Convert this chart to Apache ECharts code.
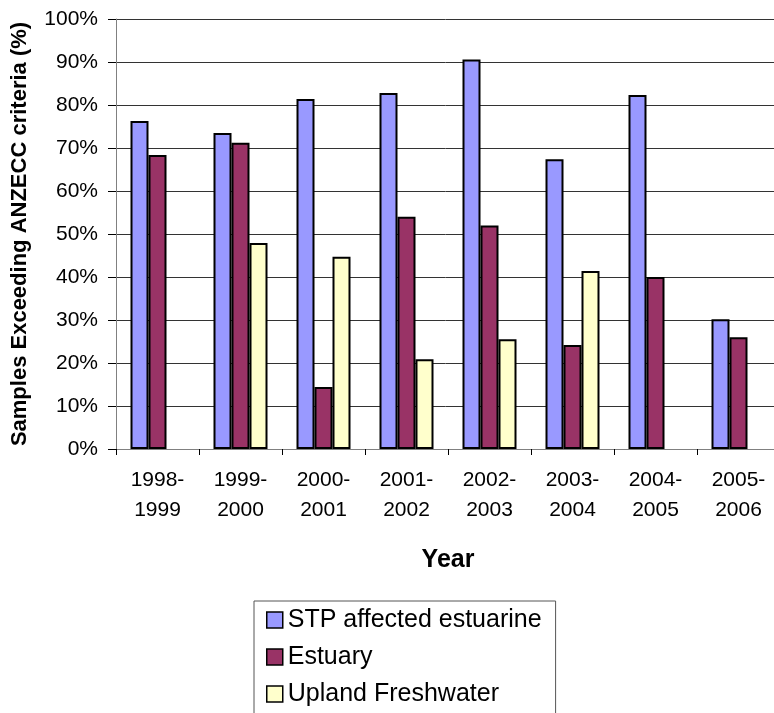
<!DOCTYPE html>
<html>
<head>
<meta charset="utf-8">
<script src="https://cdn.jsdelivr.net/npm/echarts@6/dist/echarts.min.js"></script>
<style>
  html, body { margin: 0; padding: 0; background: #fff; }
  #chart { width: 774px; height: 713px; }
</style>
</head>
<body>
<div id="chart"></div>
<script>
// Financial-year periods on the category axis
const years = ['1998-\n1999', '1999-\n2000', '2000-\n2001', '2001-\n2002',
               '2002-\n2003', '2003-\n2004', '2004-\n2005', '2005-\n2006'];

// Percentage of samples exceeding ANZECC criteria, per site type
const stpAffected = [76.3, 73.5, 81.4, 82.8, 90.6, 67.4, 82.3, 30.2];
const estuary     = [68.4, 71.2, 14.4, 54.0, 52.0, 24.2, 40.0, 26.0];
const upland      = [null, 47.9, 44.7, 20.9, 25.5, 41.4, null, null];

const yTicks = { min: 0, max: 100, step: 10 };

const FONT = '"Liberation Sans", Arial, sans-serif';

const chart = echarts.init(document.getElementById('chart'), null, { renderer: 'canvas' });

function barSeries(name, data, color) {
  return {
    name: name,
    type: 'bar',
    data: data,
    barWidth: 18,
    barGap: '0%',
    itemStyle: { color: color, borderColor: '#000', borderWidth: 2 },
    emphasis: { disabled: true }
  };
}

chart.setOption({
  animation: false,
  backgroundColor: '#fff',
  textStyle: { fontFamily: FONT },
  grid: {
    left: 116, top: 19, width: 664, height: 430,
    containLabel: false,
    outerBoundsMode: 'none'
  },
  xAxis: {
    type: 'category',
    data: years,
    name: 'Year',
    nameLocation: 'middle',
    nameGap: 99,
    nameTextStyle: { fontFamily: FONT, fontSize: 25, fontWeight: 'bold', color: '#000' },
    axisLine: { lineStyle: { color: '#808080', width: 1 } },
    axisTick: { show: true, length: 6, lineStyle: { color: '#000' } },
    axisLabel: { fontFamily: FONT, fontSize: 21, color: '#000', lineHeight: 30, margin: 16 }
  },
  yAxis: {
    type: 'value',
    min: yTicks.min,
    max: yTicks.max,
    interval: yTicks.step,
    name: 'Samples Exceeding ANZECC criteria (%)',
    nameLocation: 'middle',
    nameGap: 85,
    nameTextStyle: { fontFamily: FONT, fontSize: 22, fontWeight: 'bold', color: '#000' },
    axisLine: { show: true, lineStyle: { color: '#808080', width: 1 } },
    axisTick: { show: true, length: 8, lineStyle: { color: '#000' } },
    axisLabel: { fontFamily: FONT, fontSize: 21, color: '#000', margin: 18, formatter: '{value}%' },
    splitLine: { show: true, lineStyle: { color: '#333', width: 1 } }
  },
  legend: {
    orient: 'vertical',
    left: 254,
    top: 601,
    width: 302,
    height: 160,
    padding: [4, 14, 12, 12],
    itemGap: 7,
    itemWidth: 16,
    itemHeight: 16,
    icon: 'rect',
    borderColor: '#555',
    borderWidth: 1,
    textStyle: { fontFamily: FONT, fontSize: 25, color: '#000', lineHeight: 30 },
    itemStyle: { borderColor: '#000', borderWidth: 1.5 },
    data: ['STP affected estuarine', 'Estuary', 'Upland Freshwater']
  },
  series: [
    barSeries('STP affected estuarine', stpAffected, '#9999FF'),
    barSeries('Estuary', estuary, '#993366'),
    barSeries('Upland Freshwater', upland, '#FFFFCC')
  ]
});
</script>
</body>
</html>
